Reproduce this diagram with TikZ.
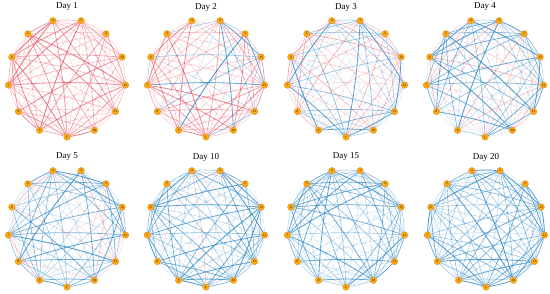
\documentclass[tikz,border=0pt]{standalone}
\usepackage{fontspec}
\setmainfont{Liberation Serif}
\usetikzlibrary{backgrounds}
\definecolor{edgered}{RGB}{228,82,96}
\definecolor{edgeblue}{RGB}{40,132,196}
\definecolor{nodeorange}{RGB}{250,170,20}
\definecolor{noderim}{RGB}{225,125,0}
\tikzset{
  daynode/.style={circle, fill=nodeorange, draw=noderim, line width=0.3pt, minimum size=6.5bp, inner sep=0pt, font=\fontsize{3.3}{3.3}\selectfont},
  daytitle/.style={font=\fontsize{9}{10}\selectfont},
  link/.style={bend right=4}
}
\newcommand{\nodelabels}{1,10,11,12,13,2,3,4,5,6,7,8,9}
% #1 prefix, #2 cx, #3 cy, #4 title, #5 red share, #6 red strength, #7 seed
\newcommand{\drawday}[7]{%
  \node[daytitle] (#1title) at (#2,#3+71) {#4};
  \foreach \lab [count=\k from 0] in \nodelabels {
    \node[daynode] (#1n\k) at ({#2+59*cos(270+\k*360/13)},{#3+59*sin(270+\k*360/13)}) {\lab};
  }
  \pgfmathsetseed{#7}
  \begin{pgfonlayer}{background}
  \foreach \i in {0,...,11} {
    \pgfmathtruncatemacro\inext{\i+1}
    \foreach \j in {\inext,...,12} {
      \pgfmathsetmacro\pick{rnd}
      \pgfmathsetmacro\wt{rnd}
      \ifdim\pick pt<#5pt
        \def\ecol{edgered}\pgfmathsetmacro\wt{#6*\wt}
      \else
        \def\ecol{edgeblue}
      \fi
      \pgfmathsetmacro\op{0.15+0.65*\wt}
      \pgfmathsetmacro\lw{0.3+0.6*\wt}
      \draw[link, draw=\ecol, opacity=\op, line width=\lw pt] (#1n\i) to (#1n\j);
    }
  }
  \end{pgfonlayer}
}

\begin{document}
\begin{tikzpicture}[x=1bp, y=1bp]
  \useasboundingbox (0,0) rectangle (550,293);

  % top row
  \drawday{da}{67}{215}{Day 1}{1}{1}{11}
  \drawday{db}{206}{215}{Day 2}{0.8}{0.85}{23}
  \drawday{dc}{346}{215}{Day 3}{0.5}{0.6}{37}
  \drawday{dd}{485}{215}{Day 4}{0.3}{0.5}{41}

  % bottom row
  \drawday{de}{67}{65}{Day 5}{0.2}{0.45}{53}
  \drawday{df}{206}{65}{Day 10}{0.1}{0.4}{67}
  \drawday{dg}{346}{65}{Day 15}{0.04}{0.3}{71}
  \drawday{dh}{486}{65}{Day 20}{0}{0.3}{89}
\end{tikzpicture}
\end{document}
